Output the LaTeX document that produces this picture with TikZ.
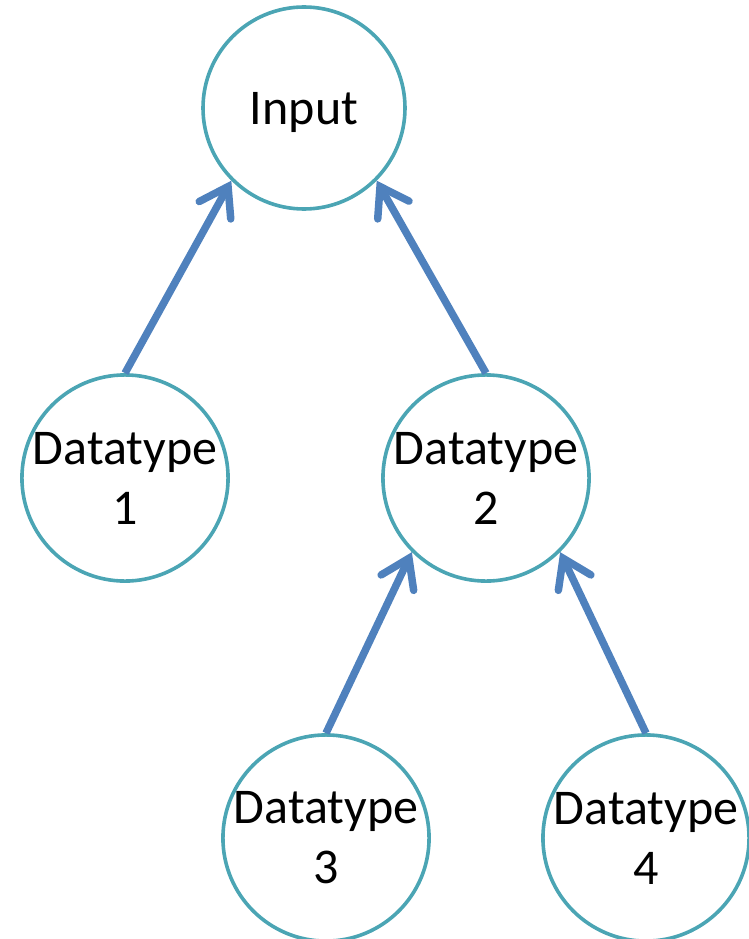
\documentclass[tikz,border=0pt]{standalone}
\usepackage{fontspec}
\setmainfont{Carlito}
\usetikzlibrary{arrows.meta}
\definecolor{ringteal}{RGB}{75,165,180}
\definecolor{linkblue}{RGB}{79,129,189}
\begin{document}
\begin{tikzpicture}[x=1pt,y=-1pt,
  typenode/.style={circle, draw=ringteal, line width=3.6pt, minimum size=202pt,
    inner sep=0pt, align=center, font=\fontsize{50}{60}\selectfont},
  feeds/.style={draw=linkblue, line width=7.5pt,
    -{Straight Barb[length=27pt,width=36pt,line cap=round]}}
]
\useasboundingbox (0,0) rectangle (748,939);
% the tree of data types
\node[typenode, text depth=0pt] (input) at (304,108) {Input};
\node[typenode] (dt1) at (125,478) {Datatype\\1};
\node[typenode] (dt2) at (486,478) {Datatype\\2};
\node[typenode] (dt3) at (326,838) {Datatype\\3};
\node[typenode] (dt4) at (646,838) {Datatype\\4};
% each child points up to its parent
\draw[feeds] (dt1.north) -- (input.south west);
\draw[feeds] (dt2.north) -- (input.south east);
\draw[feeds] (dt3.north) -- (dt2.south west);
\draw[feeds] (dt4.north) -- (dt2.south east);
\end{tikzpicture}
\end{document}
